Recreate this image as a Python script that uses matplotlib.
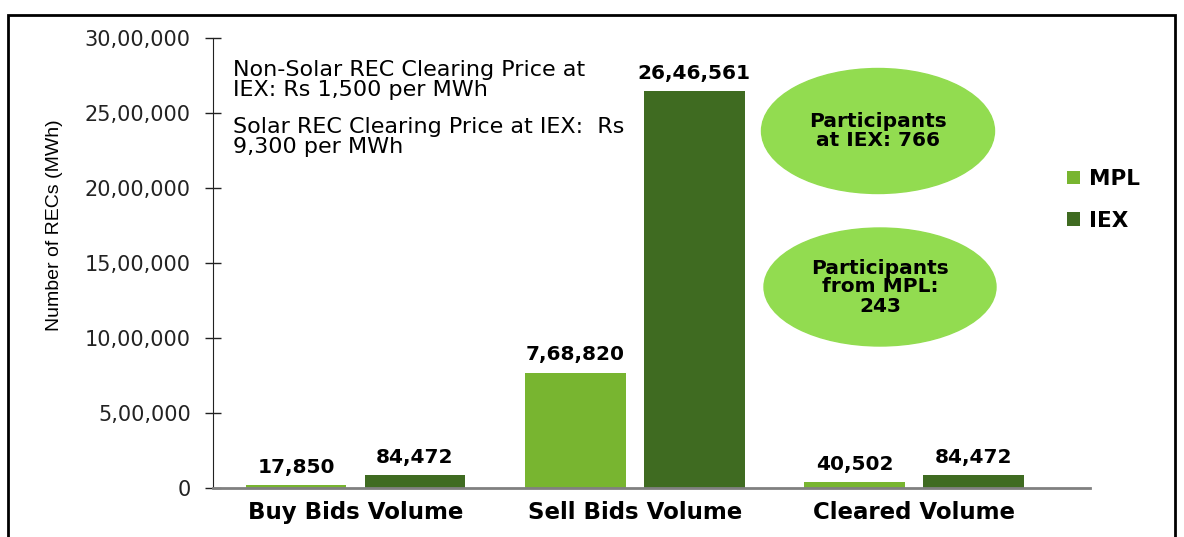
import matplotlib
matplotlib.use('Agg')
import matplotlib.pyplot as plt
from matplotlib.patches import Ellipse, Rectangle
import numpy as np

categories = ['Buy Bids Volume', 'Sell Bids Volume', 'Cleared Volume']
mpl_vals = [17850, 768820, 40502]
iex_vals = [84472, 2646561, 84472]
mpl_labels = ['17,850', '7,68,820', '40,502']
iex_labels = ['84,472', '26,46,561', '84,472']
yticks = [0, 500000, 1000000, 1500000, 2000000, 2500000, 3000000]
ytick_labels = ['0', '5,00,000', '10,00,000', '15,00,000', '20,00,000', '25,00,000', '30,00,000']

c_mpl = '#78B530'
c_iex = '#3F6B21'
c_ell = '#92DC50'

plt.rcParams['font.family'] = ['DejaVu Sans']

fig = plt.figure(figsize=(11.84, 5.37), dpi=100)
ax = fig.add_axes([0.1799, 0.0912, 0.7407, 0.838])

x = np.arange(len(categories))
w = 0.36
ax.bar(x - 0.213, mpl_vals, w, color=c_mpl, label='MPL')
ax.bar(x + 0.213, iex_vals, w, color=c_iex, label='IEX')

for i in range(len(x)):
    ax.text(x[i] - 0.213, mpl_vals[i] + 55000, mpl_labels[i], ha='center', va='bottom',
            fontsize=14.5, fontweight='bold')
    ax.text(x[i] + 0.213, iex_vals[i] + 55000, iex_labels[i], ha='center', va='bottom',
            fontsize=14.5, fontweight='bold')

ax.set_xlim(-0.51, 2.63)
ax.set_ylim(0, 3000000)
ax.set_yticks(yticks)
ax.set_yticklabels(ytick_labels, fontsize=15, color='#333333')
ax.set_xticks(x)
ax.set_xticklabels(categories, fontsize=16.5, fontweight='bold')
ax.tick_params(axis='x', length=0, pad=9)
ax.tick_params(axis='y', direction='inout', length=12, width=1, pad=10, colors='#222222')
for s in ['top', 'right']:
    ax.spines[s].set_visible(False)
ax.spines['left'].set_color('#222222')
ax.spines['bottom'].set_color('#808080')
ax.spines['bottom'].set_linewidth(2)

fig.text(55 / 1184, 1 - 225 / 537, 'Number of RECs (MWh)', rotation=90, ha='center',
         va='center', fontsize=14, family='Liberation Sans', color='black')

fig.text(0.197, 1 - 80 / 537, 'Non-Solar REC Clearing Price at\nIEX: Rs 1,500 per MWh',
         fontsize=16, va='center', ha='left', linespacing=0.98)
fig.text(0.197, 1 - 137 / 537, 'Solar REC Clearing Price at IEX:  Rs\n9,300 per MWh',
         fontsize=16, va='center', ha='left', linespacing=0.98)

# ellipses
fig.patches.append(Ellipse((878 / 1184, 1 - 131 / 537), 233 / 1184, 125 / 537,
                           transform=fig.transFigure, color=c_ell, zorder=1))
fig.patches.append(Ellipse((880 / 1184, 1 - 287 / 537), 232 / 1184, 118 / 537,
                           transform=fig.transFigure, color=c_ell, zorder=1))
fig.text(878 / 1184, 1 - 131 / 537, 'Participants\nat IEX: 766', ha='center', va='center',
         fontsize=14.5, fontweight='bold', linespacing=1.0)
fig.text(880 / 1184, 1 - 287 / 537, 'Participants\nfrom MPL:\n243', ha='center', va='center',
         fontsize=14.5, fontweight='bold', linespacing=1.0)

leg = fig.legend(loc='center left', bbox_to_anchor=(1048 / 1184, 1 - 200 / 537), frameon=False,
                 prop={'size': 15.5, 'weight': 'bold'}, handlelength=0.6, handleheight=0.6,
                 labelspacing=1.0, handletextpad=0.4)

# outer frame
fig.patches.append(Rectangle((8 / 1184, -0.01), 1167 / 1184, 1 - 15 / 537 + 0.01,
                             transform=fig.transFigure, fill=False, edgecolor='black',
                             linewidth=2))

fig.savefig('out.png', dpi=100)
